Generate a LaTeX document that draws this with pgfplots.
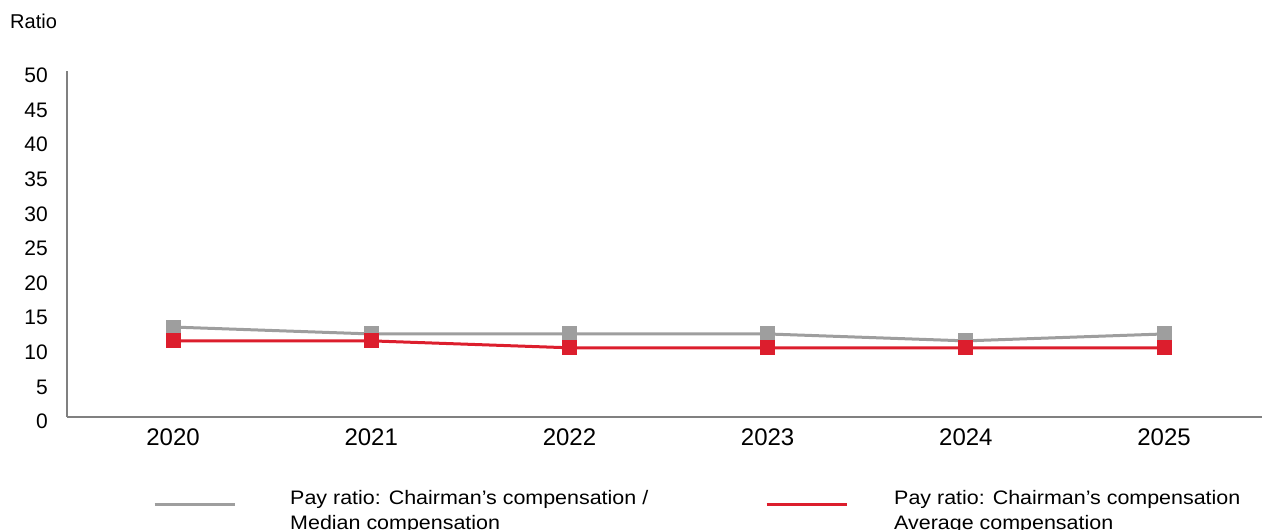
\documentclass[border=0pt]{standalone}
\usepackage{pgfplots}
\pgfplotsset{compat=1.18}
\usepackage{fontspec}
\setmainfont{Liberation Sans}
\newfontfamily\legfont[FakeStretch=1.1]{Liberation Sans}
\definecolor{ggray}{RGB}{158,158,158}
\definecolor{rred}{RGB}{220,30,45}
\definecolor{axgray}{RGB}{128,128,128}
\begin{document}
\begin{tikzpicture}
\path[use as bounding box, clip] (0,0) rectangle (1262bp,530bp);
\begin{axis}[
  at={(67bp,113bp)}, anchor=south west,
  scale only axis, width=1195bp, height=346bp,
  xmin=-0.535, xmax=5.494, ymin=0, ymax=50,
  axis x line=bottom, axis y line=left,
  axis line style={draw=axgray, line width=1.5bp, -},
  xtick={0,1,2,3,4,5},
  xticklabels={2020,2021,2022,2023,2024,2025},
  ytick={0,5,...,50},
  major tick length=0pt,
  /pgf/number format/assume math mode=true,
  xticklabel style={font=\fontsize{24bp}{28bp}\selectfont, anchor=north, inner sep=0pt, yshift=-12bp},
  yticklabel style={font=\fontsize{21bp}{25bp}\selectfont, anchor=east, inner sep=0pt, xshift=-19bp, yshift=-4.5bp},
  legend columns=2,
  legend style={at={(axis description cs:0.072,-0.253)}, anchor=west, draw=none, fill=none, inner sep=0pt,
    font=\legfont\fontsize{19.5bp}{25.5bp}\selectfont,
    nodes={inner sep=0pt, outer sep=0pt},
    column sep=0pt},
  legend cell align=left,
  legend image code/.code={\draw[#1, mark=none] (0bp,0bp) -- (80bp,0bp); \path (0bp,7bp);},
]
\addplot[color=ggray, line width=3bp, mark=square*, mark size=7bp, mark options={line width=0pt}]
  coordinates {(0,13) (1,12) (2,12) (3,12) (4,11) (5,12)};
\addlegendentry{\hspace*{54bp}\parbox{475bp}{\fontsize{19.5bp}{25.5bp}\selectfont Pay ratio: Chairman’s compensation /\\Median compensation}}
\addplot[color=rred, line width=3bp, mark=square*, mark size=7bp, mark options={line width=0pt}]
  coordinates {(0,11) (1,11) (2,10) (3,10) (4,10) (5,10)};
\addlegendentry{\hspace*{46bp}\parbox{360bp}{\fontsize{19.5bp}{25.5bp}\selectfont Pay ratio: Chairman’s compensation\\Average compensation}}
\end{axis}
\node[anchor=base west, inner sep=0pt, font=\fontsize{20bp}{23bp}\selectfont] at (10bp,501bp) {Ratio};
\end{tikzpicture}
\end{document}
